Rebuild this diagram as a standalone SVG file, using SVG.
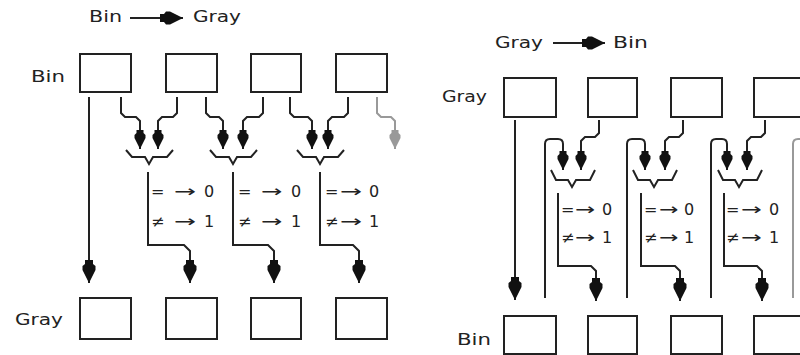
<svg xmlns="http://www.w3.org/2000/svg" width="800" height="355" viewBox="0 0 800 355">
<style>
.box{fill:#fff;stroke:#222;stroke-width:2}
.ln{fill:none;stroke:#222;stroke-width:2}
.gr{fill:none;stroke:#999;stroke-width:2}
.gate{fill:none;stroke:#222;stroke-width:2}
.t{font-family:"DejaVu Sans","Liberation Sans",sans-serif;font-size:16px;fill:#222}
.s{font-family:"DejaVu Sans","Liberation Sans",sans-serif;font-size:16px;fill:#222}
</style>
<defs>
<marker id="aL" markerUnits="userSpaceOnUse" viewBox="-24 -8 26 16" markerWidth="26" markerHeight="16" refX="0" refY="0" orient="auto">
<path d="M0,0 L-3,-1.5 L-13,-6.5 L-17,-6.5 L-19,-4 L-23,-4 L-23,4 L-19,4 L-17,6.5 L-13,6.5 L-3,1.5 Z" fill="#111"/>
</marker>
<marker id="aS" markerUnits="userSpaceOnUse" viewBox="-20 -7 22 14" markerWidth="22" markerHeight="14" refX="0" refY="0" orient="auto">
<path d="M0,0 L-3,-1.5 L-11,-5.5 L-14,-5.5 L-16,-3.5 L-19,-3.5 L-19,3.5 L-16,3.5 L-14,5.5 L-11,5.5 L-3,1.5 Z" fill="#111"/>
</marker>
<marker id="aG" markerUnits="userSpaceOnUse" viewBox="-20 -7 22 14" markerWidth="22" markerHeight="14" refX="0" refY="0" orient="auto">
<path d="M0,0 L-3,-1.5 L-11,-5.5 L-14,-5.5 L-16,-3.5 L-19,-3.5 L-19,3.5 L-16,3.5 L-14,5.5 L-11,5.5 L-3,1.5 Z" fill="#999"/>
</marker>
</defs>

<!-- Titles -->
<g id="title-left">
<text class="t" x="89" y="22" textLength="33" lengthAdjust="spacingAndGlyphs">Bin</text>
<text class="t" x="193" y="22" textLength="48" lengthAdjust="spacingAndGlyphs">Gray</text>
</g>
<g id="title-right">
<text class="t" x="495" y="48" textLength="48" lengthAdjust="spacingAndGlyphs">Gray</text>
<text class="t" x="613" y="48" textLength="35" lengthAdjust="spacingAndGlyphs">Bin</text>
</g>

<!-- Row labels -->
<text class="t" x="31" y="82" textLength="34" lengthAdjust="spacingAndGlyphs">Bin</text>
<text class="t" x="15" y="325" textLength="48" lengthAdjust="spacingAndGlyphs">Gray</text>
<text class="t" x="442" y="102" textLength="45" lengthAdjust="spacingAndGlyphs">Gray</text>
<text class="t" x="457" y="345" textLength="34" lengthAdjust="spacingAndGlyphs">Bin</text>

<!-- Left diagram nodes -->
<g id="L-bin0"><rect class="box" x="80" y="54" width="51" height="38"/></g>
<g id="L-bin1"><rect class="box" x="166" y="54" width="51" height="38"/></g>
<g id="L-bin2"><rect class="box" x="251" y="54" width="50" height="38"/></g>
<g id="L-bin3"><rect class="box" x="336" y="54" width="51" height="38"/></g>
<g id="L-gray0"><rect class="box" x="80" y="298" width="51" height="41"/></g>
<g id="L-gray1"><rect class="box" x="166" y="298" width="51" height="41"/></g>
<g id="L-gray2"><rect class="box" x="251" y="298" width="50" height="41"/></g>
<g id="L-gray3"><rect class="box" x="336" y="298" width="51" height="41"/></g>

<g id="L-xor1">
<path class="gate" d="M126,150 L132,157 H145 L149,164 L153,157 H167 L173,150"/>
<text class="s" y="197"><tspan x="151">=</tspan><tspan x="204">0</tspan></text>
<text class="s" transform="translate(174,197) scale(1.65,1)">→</text>
<text class="s" y="227"><tspan x="151">≠</tspan><tspan x="204">1</tspan></text>
<text class="s" transform="translate(174,227) scale(1.65,1)">→</text>
</g>
<g id="L-xor2">
<path class="gate" d="M210,150 L216,157 H229 L233,164 L237,157 H251 L257,150"/>
<text class="s" y="197"><tspan x="238">=</tspan><tspan x="291">0</tspan></text>
<text class="s" transform="translate(261,197) scale(1.6,1)">→</text>
<text class="s" y="227"><tspan x="238">≠</tspan><tspan x="291">1</tspan></text>
<text class="s" transform="translate(261,227) scale(1.6,1)">→</text>
</g>
<g id="L-xor3">
<path class="gate" d="M297,150 L303,157 H316 L320,164 L324,157 H338 L344,150"/>
<text class="s" y="197"><tspan x="325">=</tspan><tspan x="369">0</tspan></text>
<text class="s" transform="translate(340,197) scale(1.65,1)">→</text>
<text class="s" y="227"><tspan x="325">≠</tspan><tspan x="369">1</tspan></text>
<text class="s" transform="translate(340,227) scale(1.65,1)">→</text>
</g>

<!-- Right diagram nodes -->
<g id="R-gray0"><rect class="box" x="504" y="78" width="52" height="39"/></g>
<g id="R-gray1"><rect class="box" x="588" y="78" width="49" height="39"/></g>
<g id="R-gray2"><rect class="box" x="671" y="78" width="51" height="39"/></g>
<g id="R-gray3"><rect class="box" x="754" y="78" width="52" height="39"/></g>
<g id="R-bin0"><rect class="box" x="504" y="316" width="52" height="38"/></g>
<g id="R-bin1"><rect class="box" x="588" y="316" width="49" height="38"/></g>
<g id="R-bin2"><rect class="box" x="671" y="316" width="51" height="38"/></g>
<g id="R-bin3"><rect class="box" x="754" y="316" width="52" height="38"/></g>

<g id="R-xor1">
<path class="gate" d="M551,170 L556,180 H568 L572,187 L576,180 H590 L595,170"/>
<text class="s" y="215"><tspan x="561">=</tspan><tspan x="602">0</tspan></text>
<text class="s" transform="translate(575,215) scale(1.5,1)">→</text>
<text class="s" y="243"><tspan x="561">≠</tspan><tspan x="602">1</tspan></text>
<text class="s" transform="translate(575,243) scale(1.5,1)">→</text>
</g>
<g id="R-xor2">
<path class="gate" d="M633,170 L638,180 H650 L654,187 L658,180 H672 L677,170"/>
<text class="s" y="215"><tspan x="644">=</tspan><tspan x="684">0</tspan></text>
<text class="s" transform="translate(659,215) scale(1.45,1)">→</text>
<text class="s" y="243"><tspan x="644">≠</tspan><tspan x="684">1</tspan></text>
<text class="s" transform="translate(659,243) scale(1.45,1)">→</text>
</g>
<g id="R-xor3">
<path class="gate" d="M718,170 L723,180 H735 L739,187 L743,180 H757 L762,170"/>
<text class="s" y="215"><tspan x="726">=</tspan><tspan x="769">0</tspan></text>
<text class="s" transform="translate(741,215) scale(1.55,1)">→</text>
<text class="s" y="243"><tspan x="726">≠</tspan><tspan x="769">1</tspan></text>
<text class="s" transform="translate(741,243) scale(1.55,1)">→</text>
</g>

<!-- Connectors -->
<g id="connectors">
<path class="ln" d="M130,18 H183" marker-end="url(#aL)"/>
<path class="ln" d="M553,43 H605" marker-end="url(#aL)"/>

<path class="ln" d="M89,97 V283" marker-end="url(#aL)"/>
<path class="ln" d="M121,97 V113 L125,117 H136 L140,121 V149" marker-end="url(#aS)"/>
<path class="ln" d="M177,97 V113 L173,117 H162 L158,121 V149" marker-end="url(#aS)"/>
<path class="ln" d="M206,97 V113 L210,117 H219 L223,121 V149" marker-end="url(#aS)"/>
<path class="ln" d="M263,97 V113 L259,117 H247 L243,121 V149" marker-end="url(#aS)"/>
<path class="ln" d="M290,97 V113 L294,117 H308 L312,121 V149" marker-end="url(#aS)"/>
<path class="ln" d="M348,97 V113 L344,117 H332 L328,121 V149" marker-end="url(#aS)"/>
<path class="gr" d="M377,97 V113 L381,117 H391 L395,121 V149" marker-end="url(#aG)"/>
<path class="ln" d="M148,172 V245 H184 L190,251 V283" marker-end="url(#aL)"/>
<path class="ln" d="M233,172 V245 H268 L274,251 V283" marker-end="url(#aL)"/>
<path class="ln" d="M320,172 V245 H353 L359,251 V283" marker-end="url(#aL)"/>

<path class="ln" d="M515,120 V300" marker-end="url(#aL)"/>
<path class="ln" d="M545,298 V144 Q545,139 550,139 H558 Q563,139 563,144 V170" marker-end="url(#aS)"/>
<path class="ln" d="M627,298 V144 Q627,139 632,139 H640 Q645,139 645,144 V170" marker-end="url(#aS)"/>
<path class="ln" d="M711,298 V144 Q711,139 716,139 H722 Q727,139 727,144 V170" marker-end="url(#aS)"/>
<path class="gr" d="M793,298 V144 Q793,139 798,139 H802"/>
<path class="ln" d="M599,120 V133 L595,137 H585 L581,141 V170" marker-end="url(#aS)"/>
<path class="ln" d="M683,120 V133 L679,137 H669 L665,141 V170" marker-end="url(#aS)"/>
<path class="ln" d="M765,120 V133 L761,137 H751 L747,141 V170" marker-end="url(#aS)"/>
<path class="ln" d="M558,193 V266 H591 L596,271 V301" marker-end="url(#aL)"/>
<path class="ln" d="M641,193 V266 H675 L680,271 V301" marker-end="url(#aL)"/>
<path class="ln" d="M724,193 V266 H757 L762,271 V301" marker-end="url(#aL)"/>
</g>
</svg>
